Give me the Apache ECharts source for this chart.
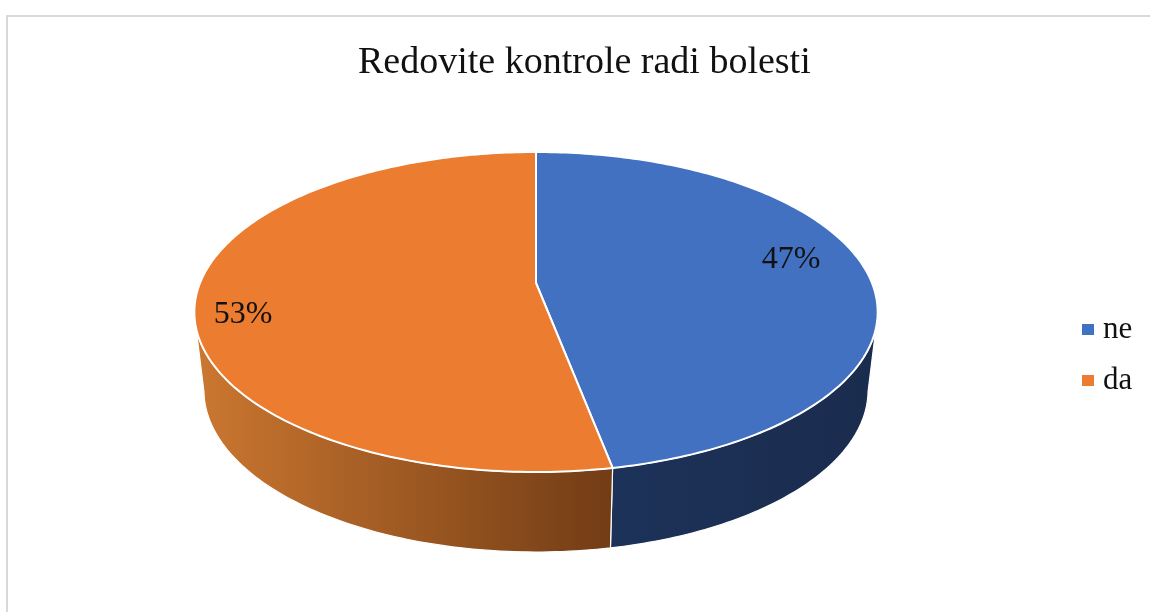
<!DOCTYPE html>
<html>
<head>
<meta charset="utf-8">
<title>Redovite kontrole radi bolesti</title>
<style>
html, body { margin: 0; padding: 0; background: #fff; }
#main { width: 1150px; height: 612px; }
</style>
<script src="https://cdn.jsdelivr.net/npm/echarts@6/dist/echarts.min.js"></script>
</head>
<body>
<div id="main"></div>
<script>
// values
const categories = ['ne', 'da']
const values = [47, 53]
const faceColors = ['#4371C2', '#EC7C30']
const wallColors = [['#1D3259', '#1A2C4E'], ['#CB7730', '#723C15']]
const labelPlaces = [[791, 260], [243, 315]]

const total = values.reduce((a, b) => a + b, 0)

// the disc seen in perspective: unit circle -> screen
const CX = 536, R = 336, PA = 103.45, PB = 283, PC = -0.18125
// bottom disc is the top ellipse shifted and a bit narrower
const TOP_MID = 312, LOW_MID = 390, LOW_X = 0.972, LOW_Y = 1.0125
// angles (from 12 o'clock) where the wall silhouette leaves each rim
const RIM_TOP = 106, RIM_LOW = 101

function topPoint(deg, r) {
    let t = deg * Math.PI / 180
    let u = Math.sin(t) * r, v = -Math.cos(t) * r
    let w = PC * v + 1
    return [CX + R * u / w, (PA * v + PB) / w]
}

function lowPoint(deg) {
    let p = topPoint(deg, 1)
    return [CX + (p[0] - CX) * LOW_X, LOW_MID + (p[1] - TOP_MID) * LOW_Y]
}

function arc(fn, from, to) {
    let pts = []
    let n = Math.max(2, Math.ceil(Math.abs(to - from)))
    for (let i = 0; i <= n; i++) {
        pts.push(fn(from + (to - from) * i / n, 1))
    }
    return pts
}

function startOf(index) {
    let sum = 0
    for (let i = 0; i < index; i++) sum += values[i]
    return sum / total * 360
}

function renderSlice(index) {
    return function (params, api) {
        let from = startOf(index)
        let to = from + api.value(0) / total * 360
        // front wall only, the back of the disc is never seen
        let wallTop = arc(topPoint, Math.max(from, RIM_TOP), Math.min(to, 360 - RIM_TOP))
        let wallLow = arc(lowPoint, Math.min(to, 360 - RIM_LOW), Math.max(from, RIM_LOW))
        let face = [topPoint(0, 0)].concat(arc(topPoint, from, to))
        return {
            type: 'group',
            children: [{
                type: 'polygon',
                shape: { points: wallTop.concat(wallLow) },
                style: {
                    fill: new echarts.graphic.LinearGradient(0, 0, 1, 0, [
                        { offset: 0, color: wallColors[index][0] },
                        { offset: 1, color: wallColors[index][1] }
                    ]),
                    stroke: '#fff',
                    lineWidth: 1.2
                }
            }, {
                type: 'polygon',
                shape: { points: face },
                style: { fill: faceColors[index], stroke: '#fff', lineWidth: 2, lineJoin: 'round' }
            }, {
                type: 'text',
                style: {
                    x: labelPlaces[index][0],
                    y: labelPlaces[index][1],
                    text: api.value(0) + '%',
                    fill: '#111',
                    font: '32px "Liberation Serif"',
                    align: 'center',
                    verticalAlign: 'middle'
                }
            }]
        }
    }
}

let myChart = echarts.init(document.getElementById('main'), null, { renderer: 'canvas' })
myChart.setOption({
    animation: false,
    backgroundColor: '#fff',
    title: {
        text: 'Redovite kontrole radi bolesti',
        left: 353,
        top: 39,
        textStyle: {
            fontFamily: 'Liberation Serif',
            fontSize: 38,
            fontWeight: 'normal',
            color: '#111'
        }
    },
    legend: {
        orient: 'vertical',
        left: 1077,
        top: 309,
        itemWidth: 12,
        itemHeight: 11,
        itemGap: 20,
        icon: 'rect',
        data: categories,
        textStyle: {
            fontFamily: 'Liberation Serif',
            fontSize: 31,
            color: '#111',
            padding: [0, 0, 0, 4]
        }
    },
    graphic: [{
        type: 'rect',
        silent: true,
        z: -1,
        shape: { x: 7, y: 16, width: 1400, height: 900 },
        style: { fill: 'none', stroke: '#d9d9d9', lineWidth: 2 }
    }],
    series: categories.map((name, i) => ({
        type: 'custom',
        name: name,
        coordinateSystem: 'none',
        silent: true,
        itemStyle: { color: faceColors[i] },
        renderItem: renderSlice(i),
        data: [[values[i]]]
    }))
})
</script>
</body>
</html>
